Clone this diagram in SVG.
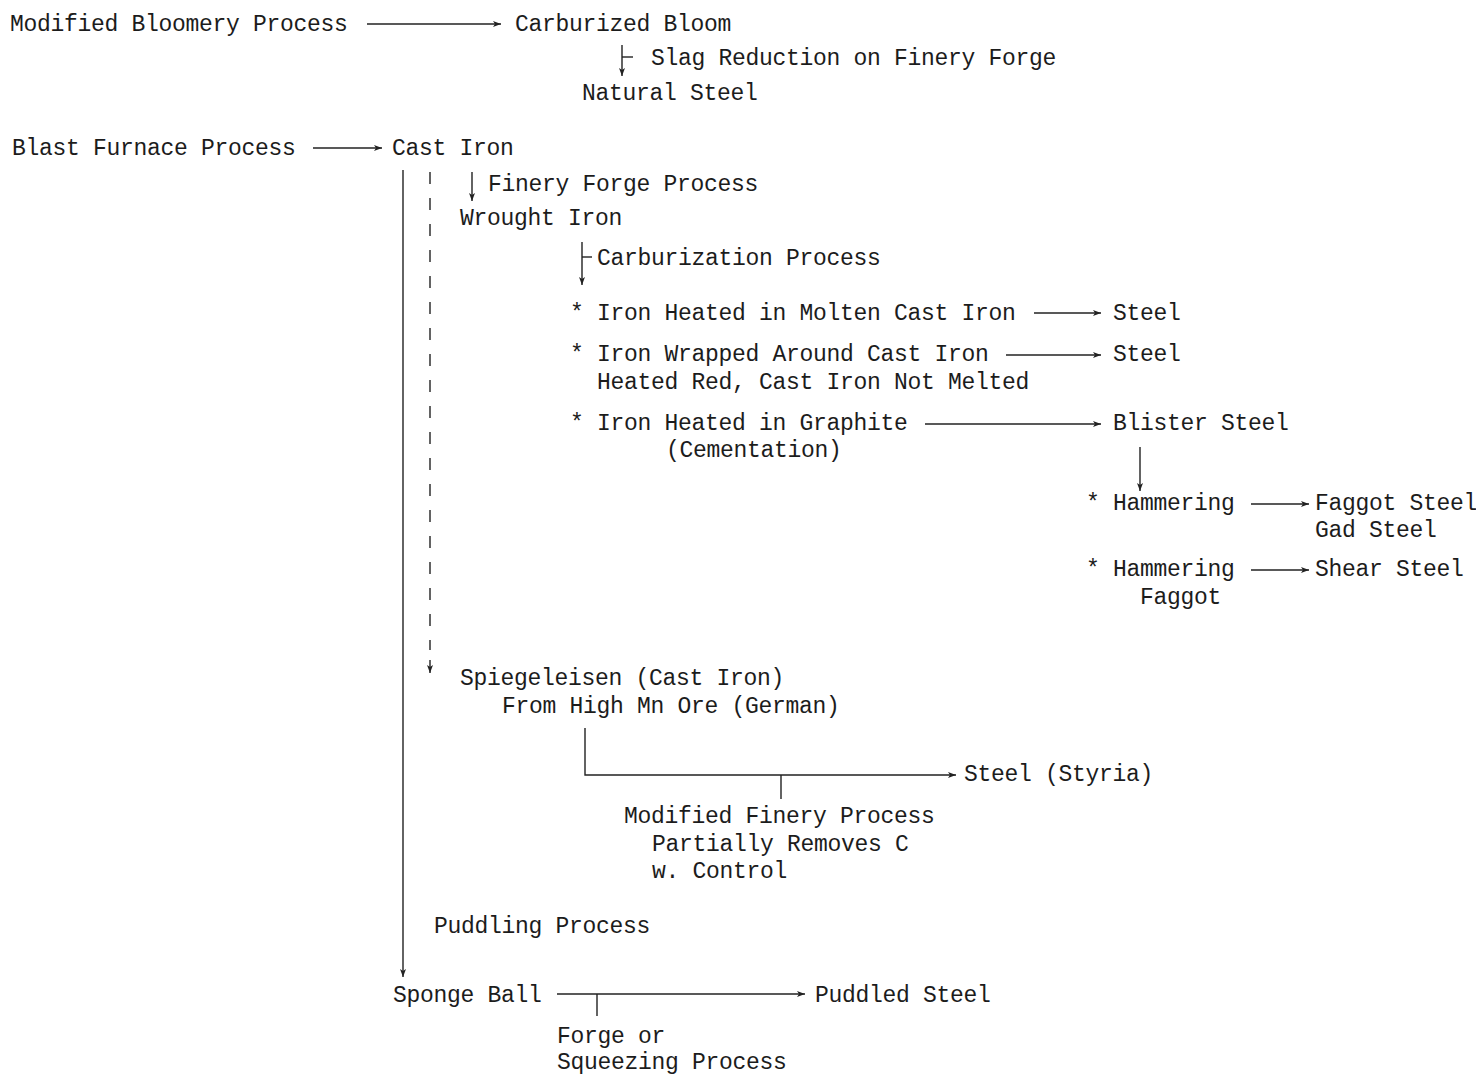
<svg xmlns="http://www.w3.org/2000/svg" width="1476" height="1080" viewBox="0 0 1476 1080">
<style>
text{font-family:"Liberation Mono","DejaVu Sans Mono",monospace;font-size:23px;letter-spacing:-0.3px;fill:#1c1c1c}
.c{fill:none;stroke:#222;stroke-width:1.4}
.a{marker-end:url(#ah)}
.d{stroke-dasharray:12 14}
</style>
<defs>
<marker id="ah" markerUnits="userSpaceOnUse" markerWidth="10" markerHeight="8" refX="8" refY="4" orient="auto">
<path d="M0,1 L8,4 L0,7 L2,4 Z" fill="#222"/>
</marker>
</defs>
<rect width="1476" height="1080" fill="#fff"/>
<g id="connectors">
<path class="c a" d="M367,24 H501"/>
<path class="c a" d="M622,45 V76"/>
<path class="c" d="M622,57 H633"/>
<path class="c a" d="M313,148 H382"/>
<path class="c a" d="M403,170 V977"/>
<path class="c d" d="M430,172 V650"/>
<path class="c a" d="M430,660 V673"/>
<path class="c a" d="M472,172 V201"/>
<path class="c a" d="M582,242 V285"/>
<path class="c" d="M582,257 H592"/>
<path class="c a" d="M1034,313 H1101"/>
<path class="c a" d="M1006,355 H1101"/>
<path class="c a" d="M925,424 H1101"/>
<path class="c a" d="M1140,447 V491"/>
<path class="c a" d="M1251,504 H1309"/>
<path class="c a" d="M1251,570 H1309"/>
<path class="c a" d="M585,728 V775 H956"/>
<path class="c" d="M781,775 V799"/>
<path class="c a" d="M557,994 H805"/>
<path class="c" d="M597,994 V1016"/>
</g>
<g id="n-bloomery"><text x="10" y="31">Modified Bloomery Process</text></g>
<g id="n-carb-bloom"><text x="515" y="31">Carburized Bloom</text></g>
<g id="l-slag"><text x="651" y="65">Slag Reduction on Finery Forge</text></g>
<g id="n-natural"><text x="582" y="100">Natural Steel</text></g>
<g id="n-blast"><text x="12" y="155">Blast Furnace Process</text></g>
<g id="n-cast"><text x="392" y="155">Cast Iron</text></g>
<g id="l-finery"><text x="488" y="191">Finery Forge Process</text></g>
<g id="n-wrought"><text x="460" y="225">Wrought Iron</text></g>
<g id="l-carburization"><text x="597" y="265">Carburization Process</text></g>
<g id="n-molten"><text x="570" y="320">* Iron Heated in Molten Cast Iron</text></g>
<g id="n-steel1"><text x="1113" y="320">Steel</text></g>
<g id="n-wrapped"><text x="570" y="361">* Iron Wrapped Around Cast Iron</text><text x="597" y="389">Heated Red, Cast Iron Not Melted</text></g>
<g id="n-steel2"><text x="1113" y="361">Steel</text></g>
<g id="n-graphite"><text x="570" y="430">* Iron Heated in Graphite</text><text x="666" y="457">(Cementation)</text></g>
<g id="n-blister"><text x="1113" y="430">Blister Steel</text></g>
<g id="n-hammer1"><text x="1086" y="510">* Hammering</text></g>
<g id="n-faggot-steel"><text x="1315" y="510">Faggot Steel</text><text x="1315" y="537">Gad Steel</text></g>
<g id="n-hammer2"><text x="1086" y="576">* Hammering</text><text x="1140" y="604">Faggot</text></g>
<g id="n-shear"><text x="1315" y="576">Shear Steel</text></g>
<g id="n-spiegel"><text x="460" y="685">Spiegeleisen (Cast Iron)</text><text x="502" y="713">From High Mn Ore (German)</text></g>
<g id="n-styria"><text x="964" y="781">Steel (Styria)</text></g>
<g id="l-modfinery"><text x="624" y="823">Modified Finery Process</text><text x="652" y="851">Partially Removes C</text><text x="652" y="878">w. Control</text></g>
<g id="l-puddling"><text x="434" y="933">Puddling Process</text></g>
<g id="n-sponge"><text x="393" y="1002">Sponge Ball</text></g>
<g id="n-puddled"><text x="815" y="1002">Puddled Steel</text></g>
<g id="l-forge"><text x="557" y="1043">Forge or</text><text x="557" y="1069">Squeezing Process</text></g>
</svg>
